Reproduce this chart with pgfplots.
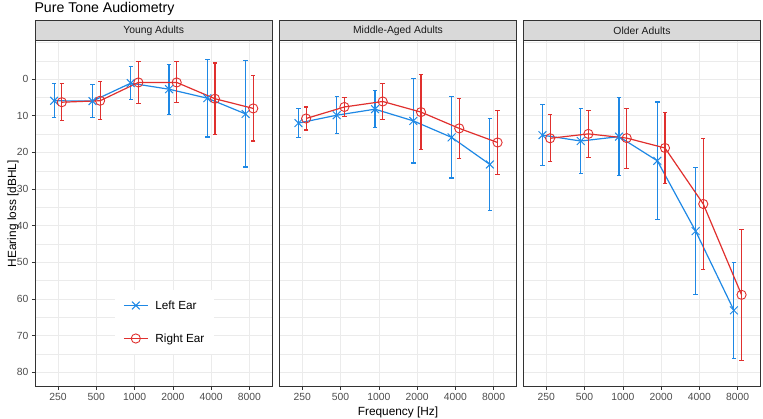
\documentclass[border=0pt]{standalone}
\usepackage{pgfplots}
\pgfplotsset{compat=1.18}
\usepackage{pgfplotstable}
\usepackage{fontspec}
\setmainfont{Liberation Sans}

\definecolor{leftear}{HTML}{1E88E5}
\definecolor{rightear}{HTML}{E0302E}
\definecolor{gray92}{HTML}{EBEBEB}
\definecolor{gray85}{HTML}{D9D9D9}
\definecolor{gray30}{HTML}{4D4D4D}
\definecolor{gray20}{HTML}{333333}
\definecolor{gray10}{HTML}{1A1A1A}

% Mean hearing threshold (dBHL) and standard deviation per frequency
% pos: 1=250, 2=500, 3=1000, 4=2000, 5=4000, 6=8000 Hz
\pgfplotstableread{
pos mean sd
1 5.9  4.6
2 6.0  4.5
3 1.1  4.45
4 2.75 6.85
5 5.2  10.6
6 9.5  14.5
}\youngL
\pgfplotstableread{
pos mean sd
1 6.3  5.1
2 5.9  5.15
3 0.9  5.75
4 0.9  5.6
5 5.35 9.75
6 8.0  8.9
}\youngR
\pgfplotstableread{
pos mean sd
1 12.0  3.95
2 9.85  5.05
3 8.2   5.0
4 11.4  11.5
5 15.9  11.1
6 23.3  12.55
}\middleL
\pgfplotstableread{
pos mean sd
1 10.75 3.15
2 7.6   2.5
3 6.1   4.9
4 9.0   10.25
5 13.45 8.25
6 17.3  8.7
}\middleR
\pgfplotstableread{
pos mean sd
1 15.3  8.3
2 16.9  8.8
3 15.7  10.6
4 22.3  16.05
5 41.5  17.35
6 63.15 13.15
}\olderL
\pgfplotstableread{
pos mean sd
1 16.15 6.45
2 14.95 6.45
3 16.1  8.2
4 18.8  9.7
5 34.1  17.8
6 58.9  17.9
}\olderR

\pgfplotsset{
  panel/.style={
    scale only axis, width=237.4bp, height=346bp,
    xmin=0.4, xmax=6.6, ymin=-10.5, ymax=84, y dir=reverse,
    xtick={1,...,6}, xticklabels={250,500,1000,2000,4000,8000},
    ytick={0,10,...,80}, minor ytick={-10,-5,5,15,25,35,45,55,65,75},
    grid=both,
    major grid style={gray92, line width=0.6bp},
    minor grid style={gray92, line width=0.35bp},
    axis line style={gray20, line width=0.6bp},
    tick align=outside, tick pos=left,
    major tick length=3.2bp, minor tick length=0pt,
    tick style={gray20, line width=0.6bp},
    tick label style={font=\fontsize{10.4}{12}\selectfont, text=gray30},
    /pgf/number format/assume math mode=true,
  },
  inner panel/.style={panel, yticklabels={}, ytick style={draw=none}},
  earL/.style={color=leftear, line width=1.2bp, mark=x, mark size=5.5bp,
    mark options={solid, line width=1bp},
    /pgfplots/error bars/y dir=both, /pgfplots/error bars/y explicit,
    /pgfplots/error bars/error bar style={color=leftear, draw=leftear, solid, line width=1.1bp},
    /pgfplots/error bars/error mark=-,
    /pgfplots/error bars/error mark options={color=leftear, draw=leftear, line width=1.1bp,
      mark size=2.2bp, rotate=90}},
  earR/.style={color=rightear, line width=1.2bp, mark=o, mark size=4.6bp,
    mark options={solid, line width=0.9bp},
    /pgfplots/error bars/y dir=both, /pgfplots/error bars/y explicit,
    /pgfplots/error bars/error bar style={color=rightear, draw=rightear, solid, line width=1.1bp},
    /pgfplots/error bars/error mark=-,
    /pgfplots/error bars/error mark options={color=rightear, draw=rightear, line width=1.1bp,
      mark size=2.2bp, rotate=90}},
}

\begin{document}
\begin{tikzpicture}
\useasboundingbox (0,0) rectangle (763bp,419bp);

% Young adults (with legend)
\begin{axis}[panel, at={(35bp,32.3bp)}, anchor=south west,
  legend style={at={(0.337,0.187)}, anchor=west, draw=none, fill=white,
    font=\fontsize{11.8}{13}\selectfont, row sep=19bp, column sep=5bp,
    inner xsep=8bp, inner ysep=8bp,
    nodes={inner sep=2bp}},
  legend cell align=left,
  legend image code/.code={\draw[mark repeat=2, mark phase=2, #1]
    plot coordinates {(0bp,0bp) (12bp,0bp) (24bp,0bp)};}]
\addplot[earL] table[x expr=\thisrow{pos}-0.1, y=mean, y error=sd] {\youngL};
\addlegendentry{Left Ear}
\addplot[earR] table[x expr=\thisrow{pos}+0.1, y=mean, y error=sd] {\youngR};
\addlegendentry{Right Ear}
\end{axis}

% Middle-aged adults
\begin{axis}[inner panel, at={(279.3bp,32.3bp)}, anchor=south west]
\addplot[earL] table[x expr=\thisrow{pos}-0.1, y=mean, y error=sd] {\middleL};
\addplot[earR] table[x expr=\thisrow{pos}+0.1, y=mean, y error=sd] {\middleR};
\end{axis}

% Older adults
\begin{axis}[inner panel, at={(523.3bp,32.3bp)}, anchor=south west]
\addplot[earL] table[x expr=\thisrow{pos}-0.1, y=mean, y error=sd] {\olderL};
\addplot[earR] table[x expr=\thisrow{pos}+0.1, y=mean, y error=sd] {\olderR};
\end{axis}

% Facet strips
\begin{scope}[x=1bp, y=1bp]
\foreach \xl/\lab in {35/Young Adults, 279.3/Middle-Aged Adults, 523.3/Older Adults}{
  \draw[fill=gray85, draw=gray20, line width=0.6bp]
    (\xl,378.3) rectangle ({\xl+237.4},398.3);
  \node[font=\fontsize{10.4}{12}\selectfont, text=gray10]
    at ({\xl+118.7},388.3) {\lab};
}
\end{scope}

% Titles
\node[anchor=base west, inner sep=0pt, font=\fontsize{14.2}{16}\selectfont]
  at (34.3bp,406.6bp) {Pure Tone Audiometry};
\node[font=\fontsize{11.9}{13}\selectfont] at (398bp,7bp) {Frequency [Hz]};
\node[rotate=90, font=\fontsize{11.9}{13}\selectfont] at (13bp,205.3bp) {HEaring loss [dBHL]};
\end{tikzpicture}
\end{document}
